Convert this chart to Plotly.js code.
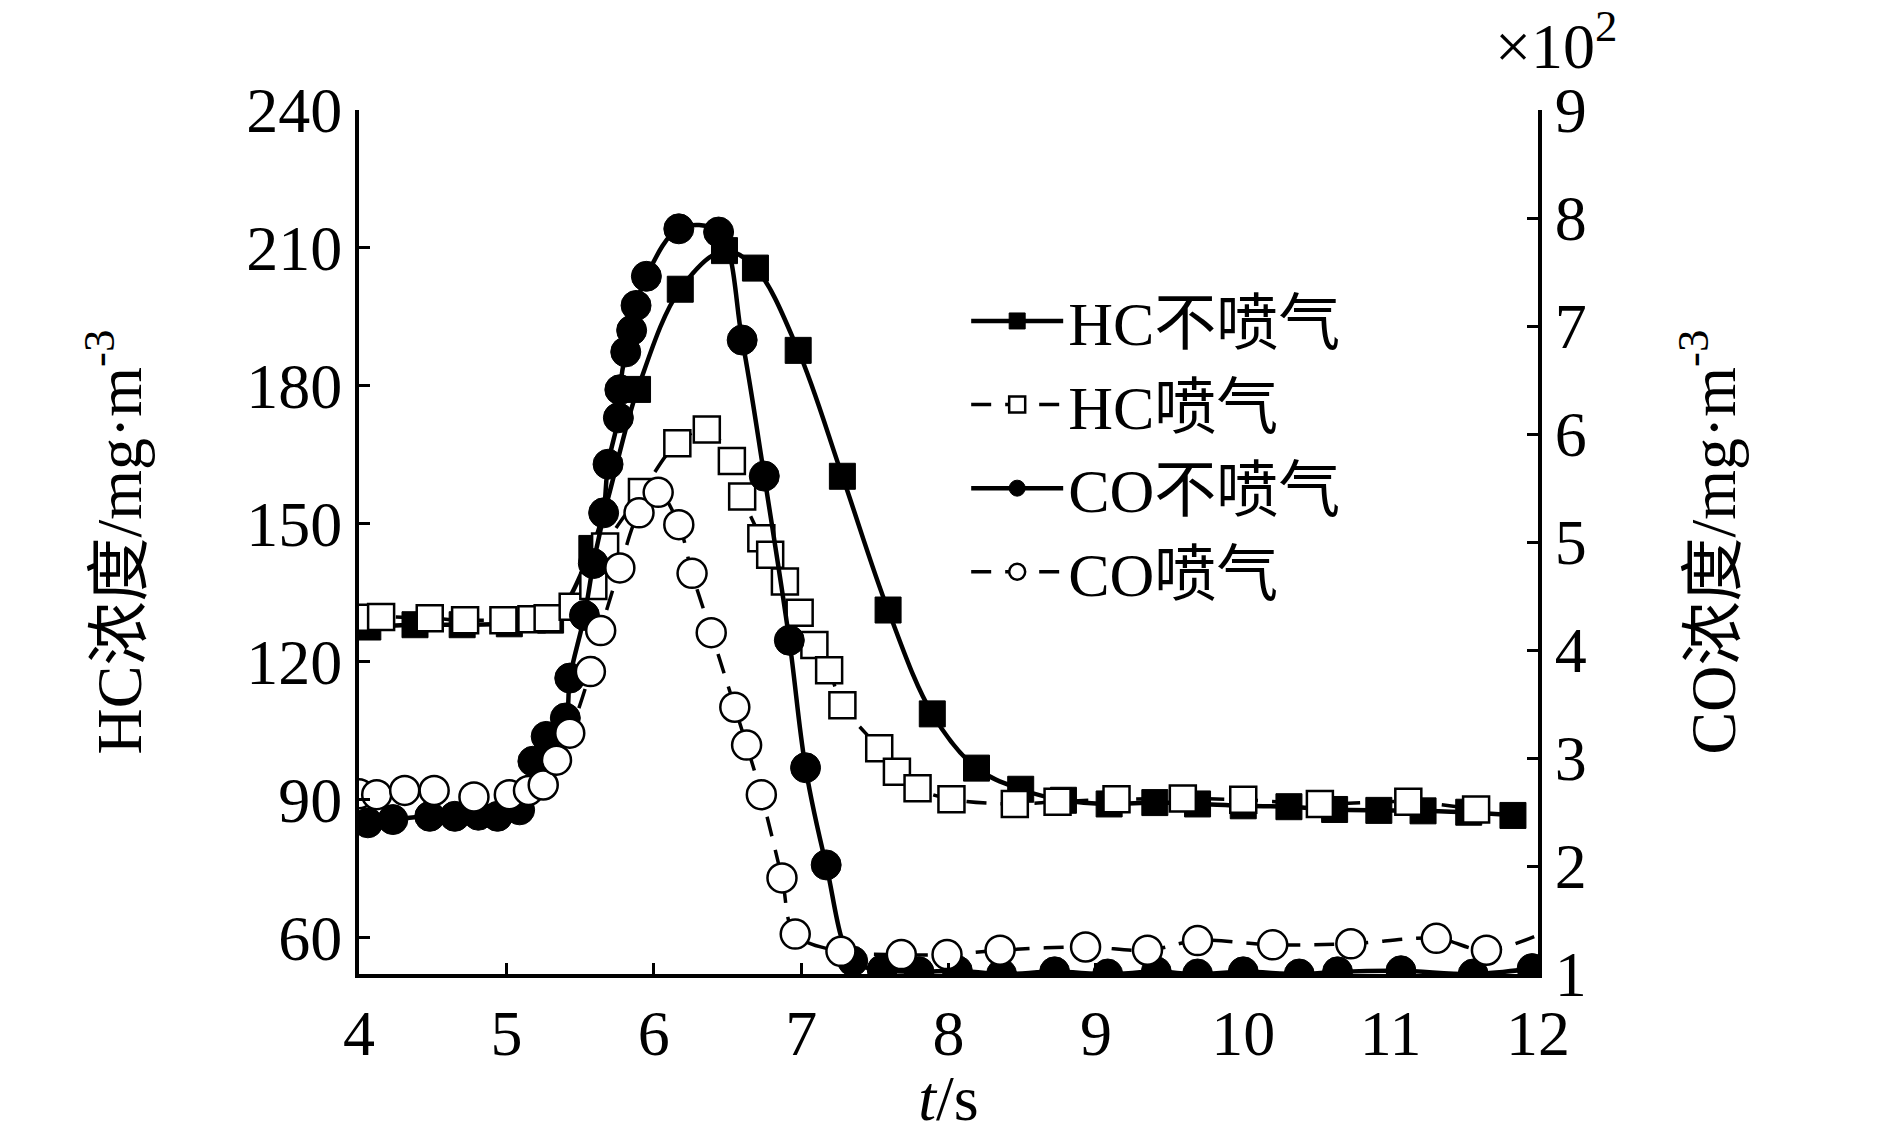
<!DOCTYPE html>
<html><head><meta charset="utf-8">
<script src="https://cdn.plot.ly/plotly-3.0.1.min.js"></script>
<style>html,body{margin:0;padding:0;background:#fff}</style>
</head><body><div id="chart" style="width:1890px;height:1134px"></div>
<script>
// time axis (s)
const xTicks = [4,5,6,7,8,9,10,11,12];
const hcTicks = [60,90,120,150,180,210,240];
const coTicks = [1,2,3,4,5,6,7,8,9];

// HC 不喷气 (mg/m3)
const hcOffT = [4.06,4.38,4.70,5.02,5.30,5.58,5.89,6.18,6.48,6.69,6.98,7.28,7.59,7.89,8.19,8.49,8.78,9.09,9.40,9.69,10.00,10.31,10.62,10.92,11.22,11.53,11.83];
const hcOffV = [127.5,128.0,128.0,128.2,129.0,144.6,179.2,201.0,209.4,205.6,187.7,160.3,131.2,108.6,96.8,92.2,89.8,89.0,89.3,89.0,88.6,88.4,87.8,87.6,87.5,87.2,86.5];

// HC 喷气
const hcOnT = [4.02,4.15,4.48,4.72,4.98,5.17,5.28,5.45,5.59,5.67,5.92,6.16,6.36,6.53,6.60,6.73,6.79,6.89,6.99,7.09,7.19,7.28,7.53,7.65,7.79,8.02,8.45,8.74,9.14,9.59,10.00,10.52,11.12,11.58];
const hcOnV = [129.5,129.7,129.4,129.0,129.0,129.2,129.4,131.9,136.4,145.0,156.9,167.5,170.5,163.6,155.9,146.8,143.2,137.4,130.6,123.6,118.1,110.5,101.1,96.0,92.4,90.0,89.0,89.5,90.0,90.2,89.9,89.0,89.5,87.8];

// CO 不喷气 (x10^2 mg/m3)
const coOffT = [4.06,4.23,4.48,4.65,4.81,4.94,5.09,5.18,5.27,5.40,5.43,5.53,5.59,5.66,5.69,5.76,5.77,5.81,5.85,5.88,5.95,6.17,6.44,6.60,6.75,6.92,7.03,7.17,7.35,7.55,7.80,8.06,8.36,8.72,9.08,9.41,9.69,10.00,10.38,10.64,11.07,11.56,11.96];
const coOffV = [2.40,2.43,2.46,2.46,2.47,2.46,2.52,2.97,3.20,3.37,3.74,4.32,4.80,5.27,5.72,6.15,6.41,6.76,6.96,7.19,7.46,7.90,7.87,6.87,5.61,4.09,2.91,2.01,1.12,1.04,1.02,1.03,1.00,1.02,1.00,1.02,1.00,1.02,1.00,1.02,1.03,1.00,1.05];

// CO 喷气
const coOnT = [4.00,4.12,4.31,4.51,4.78,5.02,5.15,5.25,5.34,5.43,5.57,5.64,5.77,5.90,6.03,6.17,6.26,6.39,6.55,6.63,6.73,6.87,6.96,7.27,7.68,7.99,8.35,8.93,9.35,9.69,10.20,10.73,11.31,11.65,12.15];
const coOnV = [2.67,2.66,2.70,2.70,2.64,2.66,2.70,2.75,2.98,3.23,3.80,4.18,4.76,5.27,5.46,5.16,4.71,4.16,3.47,3.12,2.66,1.89,1.37,1.21,1.18,1.18,1.22,1.25,1.22,1.31,1.27,1.28,1.33,1.22,1.45];

const names = ['HC不喷气','HC喷气','CO不喷气','CO喷气'];

const FONT = 'Liberation Serif, "Times New Roman", "Noto Sans CJK SC", serif';

const traces = [
  {x: hcOffT, y: hcOffV, name: names[0], type:'scatter', mode:'lines+markers', yaxis:'y',
   line:{color:'#000', width:4.5, shape:'spline', smoothing:1},
   marker:{symbol:'square', size:26, color:'#000', line:{color:'#000', width:1}}},
  {x: hcOnT, y: hcOnV, name: names[1], type:'scatter', mode:'lines+markers', yaxis:'y',
   line:{color:'#000', width:3.5, shape:'spline', smoothing:1, dash:'20px,14px'},
   marker:{symbol:'square', size:26, color:'#fff', line:{color:'#000', width:2.5}}},
  {x: coOffT, y: coOffV, name: names[2], type:'scatter', mode:'lines+markers', yaxis:'y2',
   line:{color:'#000', width:4.5, shape:'spline', smoothing:1},
   marker:{symbol:'circle', size:30, color:'#000', line:{color:'#000', width:1}}},
  {x: coOnT, y: coOnV, name: names[3], type:'scatter', mode:'lines+markers', yaxis:'y2',
   line:{color:'#000', width:3.5, shape:'spline', smoothing:1, dash:'20px,14px'},
   marker:{symbol:'circle', size:29, color:'#fff', line:{color:'#000', width:2.5}}}
];

const axisCommon = {
  showgrid:false, zeroline:false, showline:true, linecolor:'#000', linewidth:4,
  ticks:'inside', ticklen:11, tickwidth:3, tickcolor:'#000',
  tickfont:{family:FONT, size:64, color:'#000'}
};

const layout = {
  width:1890, height:1134,
  paper_bgcolor:'#fff', plot_bgcolor:'#fff',
  margin:{l:359, r:352, t:110, b:160},
  font:{family:FONT, color:'#000', size:64},
  showlegend:true,
  legend:{x:0.515, y:0.81, xanchor:'left', yanchor:'top', bgcolor:'rgba(0,0,0,0)',
          font:{family:FONT, size:62, color:'#000'}, itemwidth:92, tracegroupgap:0},
  xaxis: Object.assign({}, axisCommon, {
    range:[4,12], tickvals:xTicks, ticktext:xTicks.map(String),
    title:{text:'<i>t</i>/s', font:{family:FONT, size:64, color:'#000'}, standoff:4}
  }),
  yaxis: Object.assign({}, axisCommon, {
    range:[52,240], tickvals:hcTicks, ticktext:hcTicks.map(String),
    title:{text:'HC浓度/mg·m<sup>-3</sup>', font:{family:FONT, size:64, color:'#000'}, standoff:85}
  }),
  yaxis2: Object.assign({}, axisCommon, {
    range:[1,9], tickvals:coTicks, ticktext:coTicks.map(String),
    overlaying:'y', side:'right',
    title:{text:'CO浓度/mg·m<sup>-3</sup>', font:{family:FONT, size:64, color:'#000'}, standoff:105}
  }),
  annotations:[
    {xref:'paper', yref:'paper', x:0.962, y:1.128, xanchor:'left', yanchor:'top', showarrow:false,
     text:'×10<sup>2</sup>', font:{family:FONT, size:64, color:'#000'}}
  ]
};

Plotly.newPlot('chart', traces, layout, {displayModeBar:false, staticPlot:true});
</script></body></html>
